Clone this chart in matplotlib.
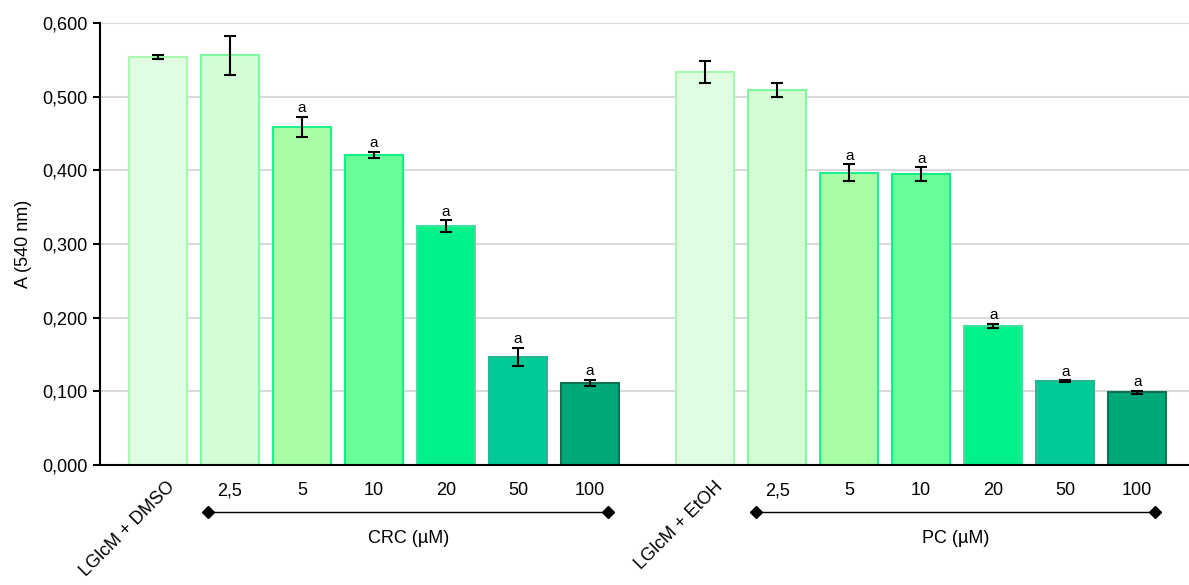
import numpy as np
import matplotlib.pyplot as plt
import matplotlib.transforms as mtransforms

plt.rcParams['font.family'] = ['Liberation Sans', 'DejaVu Sans']

# dados
rotulos_crc = ['LGlcM + DMSO', '2,5', '5', '10', '20', '50', '100']
valores_crc = [0.554, 0.556, 0.459, 0.421, 0.324, 0.147, 0.112]
erros_crc = [0.003, 0.026, 0.014, 0.004, 0.008, 0.012, 0.004]
sig_crc = ['', '', 'a', 'a', 'a', 'a', 'a']

rotulos_pc = ['LGlcM + EtOH', '2,5', '5', '10', '20', '50', '100']
valores_pc = [0.533, 0.509, 0.397, 0.395, 0.189, 0.114, 0.099]
erros_pc = [0.015, 0.010, 0.011, 0.009, 0.003, 0.001, 0.002]
sig_pc = ['', '', 'a', 'a', 'a', 'a', 'a']

cores = ['#E1FDE1', '#D3FDD5', '#A9FDA7', '#6AFD97', '#00F08A', '#00CB97', '#00A87A']
bordas = ['#A8F8B0', '#80F8A0', '#20F090', '#10EE88', '#40E0A0', '#20B890', '#107050']

pos_crc = np.arange(7)
pos_pc = np.arange(7) + 7.6

fig = plt.figure(figsize=(11.89, 5.85), dpi=100)
ax = fig.add_axes([0.0841, 0.205, 0.9159, 0.7556])

for pos, vals, errs, sig in [(pos_crc, valores_crc, erros_crc, sig_crc),
                             (pos_pc, valores_pc, erros_pc, sig_pc)]:
    ax.bar(pos, vals, width=0.8, color=cores, edgecolor=bordas, linewidth=1.5, zorder=2)
    ax.errorbar(pos, vals, yerr=errs, fmt='none', ecolor='black', elinewidth=1.5,
                capsize=4.5, capthick=1.5, zorder=3)
    for x, v, e, s in zip(pos, vals, errs, sig):
        if s:
            ax.text(x, v + e + 0.002, s, ha='center', va='bottom', fontsize=11)

ax.set_ylim(0, 0.6)
ax.set_xlim(-0.806, 14.32)
ax.set_yticks(np.arange(0, 0.61, 0.1))
ax.set_yticklabels([f'{t:.3f}'.replace('.', ',') for t in np.arange(0, 0.61, 0.1)], fontsize=13)
ax.yaxis.grid(True, color='#d9d9d9', linewidth=1.5, zorder=0)
ax.set_axisbelow(True)
ax.spines['top'].set_visible(False)
ax.spines['right'].set_visible(False)
ax.spines['left'].set_linewidth(1.5)
ax.spines['bottom'].set_linewidth(1.5)
ax.tick_params(axis='y', length=5, width=1.5, pad=4)
ax.set_ylabel('A (540 nm)', fontsize=13, labelpad=7)

ax.set_xticks(np.concatenate([pos_crc, pos_pc]))
ax.set_xticklabels([''] * 14)
ax.tick_params(axis='x', length=0)

trans = mtransforms.blended_transform_factory(ax.transData, ax.transAxes)
for pos, rot in [(pos_crc, rotulos_crc), (pos_pc, rotulos_pc)]:
    ax.text(pos[0] + 0.12, -0.03, rot[0], rotation=45, ha='right', va='top',
            fontsize=13, transform=trans, rotation_mode='anchor')
    for x, r in zip(pos[1:], rot[1:]):
        ax.text(x, -0.058, r, ha='center', va='center', fontsize=13, transform=trans)

# colchetes das concentrações
for pos, nome in [(pos_crc, 'CRC (µM)'), (pos_pc, 'PC (µM)')]:
    x0, x1 = pos[1] - 0.3, pos[6] + 0.25
    ax.plot([x0, x1], [-0.106, -0.106], color='black', linewidth=1, marker='D',
            markersize=6, transform=trans, clip_on=False)
    ax.text((x0 + x1) / 2, -0.165, nome, ha='center', va='center', fontsize=13,
            transform=trans)

plt.savefig('out.png', dpi=100)
